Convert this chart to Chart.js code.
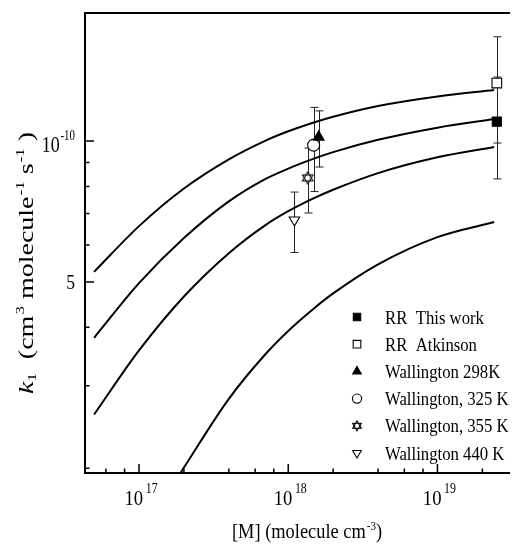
<!DOCTYPE html>
<html><head><meta charset="utf-8">
<script src="https://cdn.jsdelivr.net/npm/chart.js@4.4.1/dist/chart.umd.min.js"></script>
<style>
html,body{margin:0;padding:0;overflow:hidden;background:#fff;width:514px;height:545px}
#wrap{position:absolute;left:0;top:0;width:514px;height:545px}
</style>
</head><body><div id="wrap"><canvas id="c" width="514" height="545"></canvas></div>
<script>
// ---------- data ----------
const curveM   = [5e16, 1e17, 2e17, 4e17, 7e17, 1e18, 1.5e18, 2e18, 4e18, 1e19, 2.4e19];
const curveA   = [5.255e-11, 6.58e-11, 7.918e-11, 9.14e-11, 1.001e-10, 1.049e-10, 1.097e-10, 1.127e-10, 1.188e-10, 1.245e-10, 1.285e-10];
const curveB   = [3.80e-11, 4.97e-11, 6.205e-11, 7.43e-11, 8.29e-11, 8.73e-11, 9.18e-11, 9.47e-11, 1.006e-10, 1.068e-10, 1.114e-10];
const curveC   = [2.605e-11, 3.57e-11, 4.655e-11, 5.76e-11, 6.605e-11, 7.08e-11, 7.56e-11, 7.87e-11, 8.54e-11, 9.23e-11, 9.71e-11];
const curveDM  = [1.9e17, 4e17, 7e17, 1e18, 1.5e18, 2e18, 4e18, 1e19, 2.4e19];
const curveD   = [1.957e-11, 2.814e-11, 3.50e-11, 3.93e-11, 4.40e-11, 4.726e-11, 5.453e-11, 6.235e-11, 6.713e-11];

const seriesNames = ['RR  This work', 'RR  Atkinson', 'Wallington 298K', 'Wallington, 325 K', 'Wallington, 355 K', 'Wallington 440 K'];
const pointM   = [2.5e19, 2.5e19, 1.6e18, 1.48e18, 1.35e18, 1.1e18];
const pointK   = [1.10e-10, 1.33e-10, 1.02e-10, 0.98e-10, 0.834e-10, 0.678e-10];
const pointErr = [0.27e-10, 0.34e-10, 0.14e-10, 0.20e-10, 0.132e-10, 0.10e-10];

const xMajorTicks = [1e17, 1e18, 1e19];
const xMajorExp   = ['17', '18', '19'];
const xMinorTicks = [6e16, 8e16, 2e17, 4e17, 6e17, 8e17, 2e18, 4e18, 6e18, 8e18, 2e19];
const yMajorTicks = [1e-10, 5e-11];
const yMinorTicks = [9e-11, 8e-11, 7e-11, 6e-11, 4e-11, 3e-11, 2e-11];
const xRange = [4.345e16, 2.885e19];
const yRange = [1.954e-11, 1.877e-10];

// ---------- styles ----------
const FONT = '"Liberation Serif","Times New Roman","DejaVu Serif",serif';
function hexagram(R) {
  const s = Math.ceil(2 * R + 4), c = document.createElement('canvas');
  c.width = s; c.height = s;
  const g = c.getContext('2d'), cx = s / 2, cy = s / 2;
  const tri = a0 => { g.beginPath(); for (let i = 0; i < 3; i++) { const a = (a0 + i * 120) * Math.PI / 180; const px = cx + R * Math.cos(a), py = cy + R * Math.sin(a); i ? g.lineTo(px, py) : g.moveTo(px, py); } g.closePath(); };
  g.fillStyle = '#fff'; tri(-90); g.fill(); tri(90); g.fill();
  g.strokeStyle = '#000'; g.lineWidth = 1.1; tri(-90); g.stroke(); tri(90); g.stroke();
  return c;
}
const markerStyles = [
  { pointStyle: 'rect', r: 6.4, fill: '#000', rot: 0 },
  { pointStyle: 'rect', r: 6.8, fill: '#fff', rot: 0 },
  { pointStyle: 'triangle', r: 6.2, fill: '#000', rot: 0 },
  { pointStyle: 'circle', r: 6, fill: '#fff', rot: 0 },
  { pointStyle: hexagram(6), r: 6, fill: '#fff', rot: 0 },
  { pointStyle: 'triangle', r: 6, fill: '#fff', rot: 180 },
];
const legendMarkers = [
  { pointStyle: 'rect', r: 5.2, fill: '#000', rot: 0 },
  { pointStyle: 'rect', r: 5.4, fill: '#fff', rot: 0 },
  { pointStyle: 'triangle', r: 5, fill: '#000', rot: 0 },
  { pointStyle: 'circle', r: 4.6, fill: '#fff', rot: 0 },
  { pointStyle: hexagram(5), r: 5, fill: '#fff', rot: 0 },
  { pointStyle: 'triangle', r: 5, fill: '#fff', rot: 180 },
];

const datasets = [];
seriesNames.forEach((name, i) => {
  const m = markerStyles[i];
  datasets.push({
    label: name, order: 0,
    data: [{ x: pointM[i], y: pointK[i] }],
    showLine: false, pointStyle: m.pointStyle, pointRadius: m.r, pointRotation: m.rot,
    pointBackgroundColor: m.fill, pointBorderColor: '#000', pointBorderWidth: 1.1,
  });
});
[curveA, curveB, curveC].forEach((arr, j) => {
  datasets.push({
    label: 'curve' + j, order: 1,
    data: curveM.map((x, i) => ({ x, y: arr[i] })),
    showLine: true, borderColor: '#000', borderWidth: 2, pointRadius: 0,
    cubicInterpolationMode: 'monotone', fill: false,
  });
});
datasets.push({
  label: 'curve3', order: 1,
  data: curveDM.map((x, i) => ({ x, y: curveD[i] })),
  showLine: true, borderColor: '#000', borderWidth: 2, pointRadius: 0,
  cubicInterpolationMode: 'monotone', fill: false,
});

function drawParts(ctx, parts, x, y, align, sx, sy) {
  sy = sy || 1;
  let W = 0;
  parts.forEach(p => { ctx.font = (p.italic ? 'italic ' : '') + p.size + 'px ' + FONT; p.w = ctx.measureText(p.t).width; W += p.w + (p.gap || 0); });
  const start = align === 'center' ? x - W * sx / 2 : align === 'right' ? x - W * sx : x;
  ctx.save(); ctx.translate(start, y); ctx.scale(sx, sy);
  ctx.fillStyle = '#000'; ctx.textBaseline = 'alphabetic'; ctx.textAlign = 'left';
  let cx = 0;
  parts.forEach(p => { cx += (p.gap || 0); ctx.font = (p.italic ? 'italic ' : '') + p.size + 'px ' + FONT; ctx.fillText(p.t, cx, p.dy || 0); cx += p.w; });
  ctx.restore();
}
function drawMarker(ctx, m, x, y) {
  ctx.save();
  ctx.lineWidth = 1.1; ctx.strokeStyle = '#000'; ctx.fillStyle = m.fill;
  if (m.pointStyle instanceof HTMLCanvasElement) {
    ctx.drawImage(m.pointStyle, x - m.pointStyle.width / 2, y - m.pointStyle.height / 2);
  } else {
    ctx.beginPath();
    if (m.pointStyle === 'rect') { const s = m.r * Math.SQRT1_2; ctx.rect(x - s, y - s, 2 * s, 2 * s); }
    else if (m.pointStyle === 'circle') { ctx.arc(x, y, m.r, 0, Math.PI * 2); }
    else { for (let i = 0; i < 3; i++) { const a = (m.rot + i * 120) * Math.PI / 180; const px = x + Math.sin(a) * m.r, py = y - Math.cos(a) * m.r; i ? ctx.lineTo(px, py) : ctx.moveTo(px, py); } ctx.closePath(); }
    ctx.fill(); ctx.stroke();
  }
  ctx.restore();
}

const decor = {
  id: 'decor',
  beforeDatasetsDraw(chart) {
    const { ctx, scales: { x, y } } = chart;
    ctx.save(); ctx.strokeStyle = '#222'; ctx.lineWidth = 1;
    pointM.forEach((m, i) => {
      const px = Math.round(x.getPixelForValue(m)) + 0.5;
      const t = y.getPixelForValue(pointK[i] + pointErr[i]);
      const b = y.getPixelForValue(pointK[i] - pointErr[i]);
      ctx.beginPath();
      ctx.moveTo(px, t); ctx.lineTo(px, b);
      ctx.moveTo(px - 4, t); ctx.lineTo(px + 4, t);
      ctx.moveTo(px - 4, b); ctx.lineTo(px + 4, b);
      ctx.stroke();
    });
    ctx.restore();
  },
  afterDraw(chart) {
    const { ctx, chartArea: a, scales: { x, y } } = chart;
    ctx.save();
    // frame
    ctx.strokeStyle = '#000'; ctx.lineWidth = 2;
    ctx.beginPath();
    ctx.moveTo(a.right + 4, a.top); ctx.lineTo(a.left, a.top); ctx.lineTo(a.left, a.bottom); ctx.lineTo(a.right + 4, a.bottom);
    ctx.stroke();
    // ticks (inward)
    ctx.lineWidth = 1.5;
    ctx.beginPath();
    xMajorTicks.forEach(v => { const p = x.getPixelForValue(v); ctx.moveTo(p, a.bottom); ctx.lineTo(p, a.bottom - 9); });
    xMinorTicks.forEach(v => { const p = x.getPixelForValue(v); ctx.moveTo(p, a.bottom); ctx.lineTo(p, a.bottom - 4.5); });
    yMajorTicks.forEach(v => { const p = y.getPixelForValue(v); ctx.moveTo(a.left, p); ctx.lineTo(a.left + 9, p); });
    yMinorTicks.forEach(v => { const p = y.getPixelForValue(v); ctx.moveTo(a.left, p); ctx.lineTo(a.left + 4.5, p); });
    ctx.stroke();
    // x tick labels
    xMajorTicks.forEach((v, i) => {
      const p = x.getPixelForValue(v);
      drawParts(ctx, [{ t: '10', size: 22 }, { t: xMajorExp[i], size: 14, dy: -12, gap: 3 }], p + 2, 505, 'center', 0.85);
    });
    // y tick labels
    drawParts(ctx, [{ t: '10', size: 23 }, { t: '-10', size: 14, dy: -12, gap: 1 }], 75, y.getPixelForValue(yMajorTicks[0]) + 11, 'right', 0.78);
    drawParts(ctx, [{ t: '5', size: 22 }], 75, y.getPixelForValue(yMajorTicks[1]) + 7, 'right', 0.8);
    // axis titles
    drawParts(ctx, [{ t: '[M] (molecule cm', size: 20 }, { t: '-3', size: 12, dy: -8, gap: 1 }, { t: ')', size: 20 }], 307, 538, 'center', 0.92);
    ctx.save(); ctx.translate(33, 263); ctx.rotate(-Math.PI / 2);
    drawParts(ctx, [
      { t: 'k', size: 25, italic: true }, { t: '1', size: 15, dy: 4 },
      { t: '  (cm', size: 25 }, { t: '3', size: 15, dy: -11, gap: 1 },
      { t: ' molecule', size: 25 }, { t: '-1', size: 15, dy: -11, gap: 1 },
      { t: ' s', size: 25 }, { t: '-1', size: 15, dy: -11, gap: 1 }, { t: ' )', size: 25 },
    ], 0, 0, 'center', 1.12, 0.82);
    ctx.restore();
    // legend
    seriesNames.forEach((name, i) => {
      const ly = 317 + i * 27.2;
      drawMarker(ctx, legendMarkers[i], 357, ly);
      drawParts(ctx, [{ t: name, size: 19 }], 385, ly + 6.5, 'left', 0.88);
    });
    ctx.restore();
  }
};

new Chart(document.getElementById('c'), {
  type: 'scatter',
  data: { datasets },
  options: {
    responsive: false, animation: false, devicePixelRatio: 1,
    layout: { padding: { left: 85, top: 13, right: 0, bottom: 72 } },
    plugins: { legend: { display: false }, tooltip: { enabled: false } },
    scales: {
      x: { type: 'logarithmic', min: xRange[0], max: xRange[1], display: false },
      y: { type: 'logarithmic', min: yRange[0], max: yRange[1], display: false },
    },
  },
  plugins: [decor],
});
</script>
</body></html>
